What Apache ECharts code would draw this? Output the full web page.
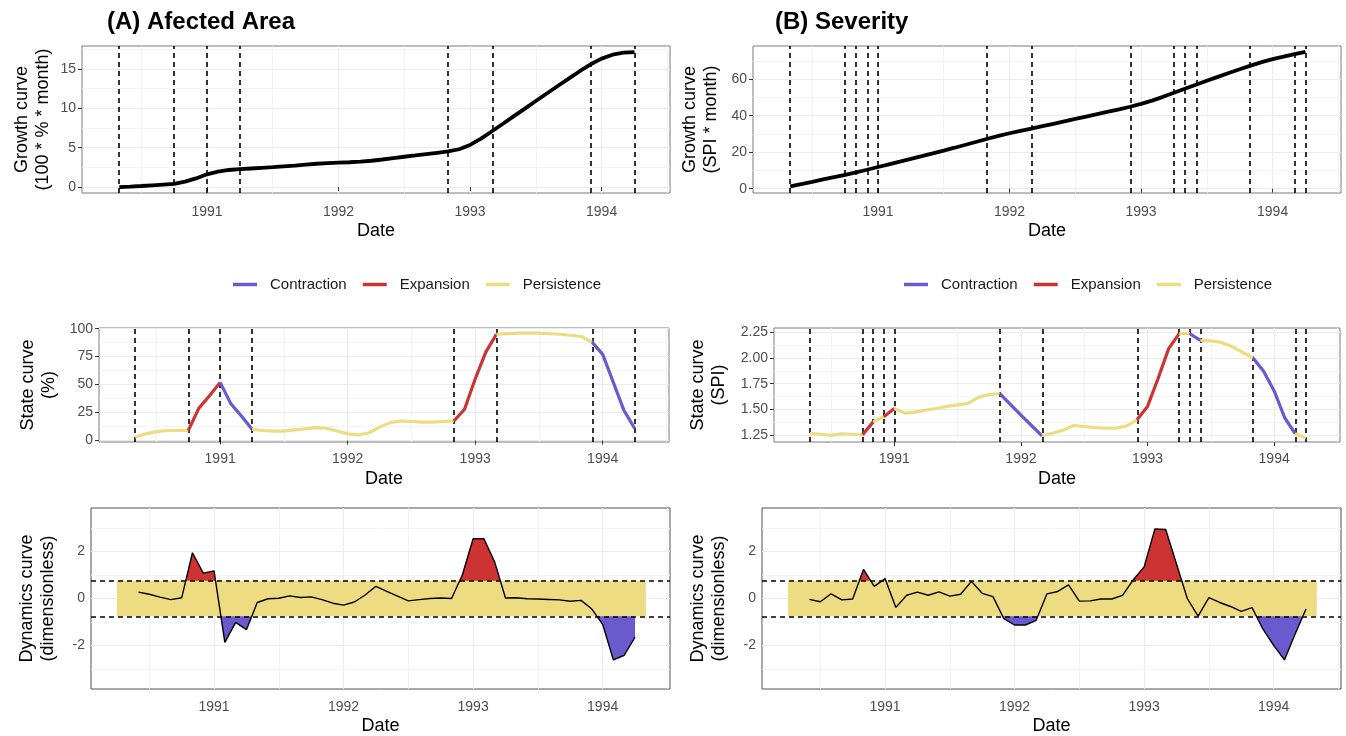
<!DOCTYPE html>
<html><head><meta charset="utf-8">
<script src="https://cdn.jsdelivr.net/npm/echarts@6/dist/echarts.min.js"></script>
<style>html,body{margin:0;padding:0;background:#fff}#c{width:1346px;height:736px}</style>
</head><body><div id="c"></div>
<script>
// ---------------- DATA ----------------
const months = ['1990-05','1990-06','1990-07','1990-08','1990-09','1990-10','1990-11','1990-12',
 '1991-01','1991-02','1991-03','1991-04','1991-05','1991-06','1991-07','1991-08','1991-09','1991-10','1991-11','1991-12',
 '1992-01','1992-02','1992-03','1992-04','1992-05','1992-06','1992-07','1992-08','1992-09','1992-10','1992-11','1992-12',
 '1993-01','1993-02','1993-03','1993-04','1993-05','1993-06','1993-07','1993-08','1993-09','1993-10','1993-11','1993-12',
 '1994-01','1994-02','1994-03','1994-04'];
const dynMonths = months.slice(1);

const growthA = [0.00,0.06,0.14,0.23,0.32,0.41,0.70,1.10,1.62,1.95,2.17,2.27,2.36,2.45,2.53,2.63,2.73,2.85,2.96,3.04,
 3.10,3.15,3.22,3.34,3.50,3.68,3.85,4.01,4.18,4.35,4.52,4.80,5.35,6.14,7.09,8.04,9.00,9.96,10.92,11.88,12.83,13.77,14.70,15.58,
 16.30,16.80,17.05,17.12];
const growthB = [1.27,2.53,3.78,5.05,6.31,7.56,8.94,10.37,11.88,13.35,14.82,16.32,17.83,19.36,20.90,22.46,24.08,25.73,27.38,28.93,
 30.38,31.72,32.97,34.24,35.54,36.88,38.22,39.54,40.86,42.18,43.52,44.92,46.45,48.25,50.34,52.58,54.81,56.98,59.15,61.30,63.41,65.46,67.46,69.33,
 71.01,72.43,73.70,74.92];
const stateA = [3,6,8,9,9,9,29,40,52,33,22,10,9,8.5,8.5,9.5,10.5,11.5,11,8.5,6,5,7,12,16,17.5,17,16.5,16.5,17,17.5,28,
 55,79,95,95.5,96,96,96,95.5,95,94,93,88,77,52,27,11];
const stateB = [1.27,1.26,1.25,1.265,1.26,1.255,1.38,1.43,1.51,1.465,1.475,1.495,1.51,1.53,1.545,1.56,1.62,1.645,1.655,1.55,
 1.445,1.345,1.245,1.27,1.30,1.345,1.335,1.325,1.32,1.32,1.34,1.40,1.53,1.80,2.09,2.235,2.235,2.17,2.165,2.15,2.11,2.055,2.00,1.87,
 1.68,1.42,1.265,1.22];
const dynA = [0.27,0.18,0.06,-0.05,0.03,1.95,1.08,
 1.18,-1.87,-1.02,-1.33,-0.17,-0.01,0.01,0.11,0.04,0.07,-0.05,-0.2,
 -0.28,-0.15,0.15,0.52,0.3,0.1,-0.1,-0.05,0.0,0.02,0.0,1.0,
 2.55,2.55,1.55,0.02,0.03,-0.01,-0.02,-0.04,-0.06,-0.12,-0.08,-0.45,
 -1.1,-2.62,-2.42,-1.65];
const dynB = [-0.04,-0.14,0.2,-0.06,-0.02,1.24,0.52,
 0.85,-0.38,0.14,0.27,0.14,0.28,0.1,0.18,0.73,0.22,0.08,-0.86,
 -1.13,-1.13,-0.93,0.2,0.3,0.58,-0.11,-0.1,-0.02,-0.02,0.13,0.8,
 1.35,2.97,2.94,1.47,0.0,-0.75,0.04,-0.17,-0.34,-0.55,-0.39,-1.3,
 -2.0,-2.62,-1.5,-0.45];

const phasesA = [
 ['1990-05','1990-10','Persistence'],['1990-10','1991-01','Expansion'],['1991-01','1991-04','Contraction'],
 ['1991-04','1992-11','Persistence'],['1992-11','1993-03','Expansion'],['1993-03','1993-12','Persistence'],
 ['1993-12','1994-04','Contraction']];
const phasesB = [
 ['1990-05','1990-10','Persistence'],['1990-10','1990-11','Expansion'],['1990-11','1990-12','Persistence'],
 ['1990-12','1991-01','Expansion'],['1991-01','1991-11','Persistence'],['1991-11','1992-03','Contraction'],
 ['1992-03','1992-12','Persistence'],['1992-12','1993-04','Expansion'],['1993-04','1993-05','Persistence'],
 ['1993-05','1993-06','Contraction'],['1993-06','1993-11','Persistence'],['1993-11','1994-03','Contraction'],
 ['1994-03','1994-04','Persistence']];

const phaseNames = ['Contraction','Expansion','Persistence'];
const bandStart = '1990-04', bandEnd = '1994-05';
const threshold = 0.76;

const xTicks = [1991,1992,1993,1994];
const xMinor = [1990.5,1991.5,1992.5,1993.5,1994.5];
const growthATicks = [0,5,10,15], growthAMinor = [2.5,7.5,12.5,17.5];
const growthBTicks = [0,20,40,60], growthBMinor = [10,30,50,70];
const stateATicks = [0,25,50,75,100], stateAMinor = [12.5,37.5,62.5,87.5];
const stateBTicks = [1.25,1.5,1.75,2.0,2.25], stateBMinor = [1.375,1.625,1.875,2.125];
const dynTicks = [-2,0,2], dynMinor = [-3,-1,1,3];

// ---------------- STYLE / LAYOUT ----------------
const phaseColors = {Contraction:'#6A5ACD', Expansion:'#CD3333', Persistence:'#EEDC82'};
const FONT = 'Liberation Sans';
const xMin = 1990.05, xMax = 1994.52;

function dec(m){ const p = m.split('-').map(Number); return p[0] + (p[1]-1)/12; }

const grids = [], xAxes = [], yAxes = [], series = [];

function addPanel(cfg){
  const g = grids.length;
  grids.push({left:cfg.left, top:cfg.top, width:cfg.width, height:cfg.height, show:true,
    borderColor:cfg.border, borderWidth:1, backgroundColor:'rgba(0,0,0,0)'});
  const tickStyle = {color:'#333', width:1};
  xAxes.push({type:'value', gridIndex:g, min:xMin, max:xMax, position:'bottom',
    axisLine:{show:false},
    axisTick:{show:cfg.ticks, length:4, lineStyle:tickStyle, customValues:xTicks},
    axisLabel:{customValues:xTicks, color:'#4D4D4D', fontSize:14, fontFamily:FONT, margin:cfg.xLabMargin, formatter:v=>String(Math.round(v))},
    splitLine:{show:true, lineStyle:{color:'#EBEBEB', width:1.2}},
    name:'Date', nameLocation:'middle', nameGap:cfg.xNameGap,
    nameTextStyle:{fontSize:18, color:'#000', fontFamily:FONT}});
  xAxes.push({type:'value', gridIndex:g, min:xMin, max:xMax, position:'top',
    axisLine:{show:false}, axisTick:{show:false, customValues:xMinor}, axisLabel:{show:false},
    splitLine:{show:true, lineStyle:{color:'#F1F1F1', width:0.8}}});
  yAxes.push({type:'value', gridIndex:g, min:cfg.yMin, max:cfg.yMax, position:'left',
    axisLine:{show:false},
    axisTick:{show:cfg.ticks, length:4, lineStyle:tickStyle, customValues:cfg.yTicks},
    axisLabel:{customValues:cfg.yTicks, color:'#4D4D4D', fontSize:14, fontFamily:FONT, margin:6, formatter:cfg.fmt},
    splitLine:{show:true, lineStyle:{color:'#EBEBEB', width:1.2}},
    name:cfg.yName, nameLocation:'middle', nameRotate:90, nameGap:cfg.yNameGap,
    nameTextStyle:{fontSize:18, lineHeight:21, color:'#000', fontFamily:FONT}});
  yAxes.push({type:'value', gridIndex:g, min:cfg.yMin, max:cfg.yMax, position:'right',
    axisLine:{show:false}, axisTick:{show:false, customValues:cfg.yMinor}, axisLabel:{show:false},
    splitLine:{show:true, lineStyle:{color:'#F1F1F1', width:0.8}}});
  return {x:2*g, y:2*g};
}

function vlineSeries(ax, phases){
  const breaks = phases.map(p=>p[0]).concat([phases[phases.length-1][1]]);
  return {type:'line', xAxisIndex:ax.x, yAxisIndex:ax.y, data:[], z:6, silent:true,
    markLine:{silent:true, symbol:['none','none'], label:{show:false}, animation:false,
      lineStyle:{color:'#000', type:[5,4], width:1.6},
      data: breaks.map(b=>({xAxis:dec(b)}))}};
}

function growthPanel(ax, growth, phases){
  series.push({type:'line', xAxisIndex:ax.x, yAxisIndex:ax.y, silent:true, symbol:'none', z:5,
    data: months.map((m,i)=>[dec(m), growth[i]]), lineStyle:{color:'#000', width:3.8}});
  series.push(vlineSeries(ax, phases));
}

function statePanel(ax, state, phases){
  phases.forEach(p=>{
    const i0 = months.indexOf(p[0]), i1 = months.indexOf(p[1]);
    const pts = [];
    for (let i=i0;i<=i1;i++) pts.push([dec(months[i]), state[i]]);
    series.push({type:'line', name:p[2], xAxisIndex:ax.x, yAxisIndex:ax.y, silent:true, symbol:'none', z:5,
      data:pts, lineStyle:{color:phaseColors[p[2]], width:3.2}, itemStyle:{color:phaseColors[p[2]]}});
  });
  series.push(vlineSeries(ax, phases));
}

function runs(xs, ys, thr, sign){
  const polys = []; let cur = null;
  const n = xs.length;
  for (let i=0;i<n;i++){
    const a = sign*(ys[i]-thr);
    if (a > 0){
      if (!cur){
        cur = [];
        if (i>0){ const b = sign*(ys[i-1]-thr); const t = b/(b-a); cur.push([xs[i-1]+t*(xs[i]-xs[i-1]), thr]); }
        else cur.push([xs[i], thr]);
      }
      cur.push([xs[i], ys[i]]);
    } else if (cur){
      const b = sign*(ys[i-1]-thr); const t = b/(b-a);
      cur.push([xs[i-1]+t*(xs[i]-xs[i-1]), thr]);
      polys.push(cur); cur = null;
    }
  }
  if (cur){ cur.push([xs[n-1], thr]); polys.push(cur); }
  return polys;
}

function dynPanel(ax, dyn){
  const xs = dynMonths.map(dec);
  series.push({type:'line', xAxisIndex:ax.x, yAxisIndex:ax.y, data:[], z:1, silent:true,
    markArea:{silent:true, animation:false, itemStyle:{color:phaseColors.Persistence, opacity:1},
      data:[[{xAxis:dec(bandStart), yAxis:-threshold},{xAxis:dec(bandEnd), yAxis:threshold}]]}});
  const up = runs(xs, dyn, threshold, 1), down = runs(xs, dyn, -threshold, -1);
  series.push({type:'custom', xAxisIndex:ax.x, yAxisIndex:ax.y, z:2, silent:true, clip:true,
    data:[[xs[0], 0]],
    renderItem:(params, api)=>{
      const children = [];
      up.forEach(p=>children.push({type:'polygon', shape:{points:p.map(q=>api.coord(q))}, style:{fill:phaseColors.Expansion}}));
      down.forEach(p=>children.push({type:'polygon', shape:{points:p.map(q=>api.coord(q))}, style:{fill:phaseColors.Contraction}}));
      return {type:'group', children};
    }});
  series.push({type:'line', xAxisIndex:ax.x, yAxisIndex:ax.y, silent:true, symbol:'none', z:4,
    data: xs.map((x,i)=>[x, dyn[i]]), lineStyle:{color:'#000', width:1.4}});
  series.push({type:'line', xAxisIndex:ax.x, yAxisIndex:ax.y, data:[], z:5, silent:true,
    markLine:{silent:true, symbol:['none','none'], label:{show:false}, animation:false,
      lineStyle:{color:'#000', type:[5,4], width:1.6},
      data:[{yAxis:threshold},{yAxis:-threshold}]}});
}

const fmtInt = v=>String(v);
const fmt2 = v=>v.toFixed(2);

const OFF = 671;
growthPanel(addPanel({left:82, top:46, width:588, height:147, border:'#7a7a7a', ticks:true,
  yMin:-0.75, yMax:17.9, yTicks:growthATicks, yMinor:growthAMinor, fmt:fmtInt,
  yName:'Growth curve\n(100 * % * month)', yNameGap:28, xNameGap:29, xLabMargin:12}), growthA, phasesA);
growthPanel(addPanel({left:82+OFF, top:46, width:588, height:147, border:'#7a7a7a', ticks:true,
  yMin:-2.36, yMax:78.2, yTicks:growthBTicks, yMinor:growthBMinor, fmt:fmtInt,
  yName:'Growth curve\n(SPI * month)', yNameGap:31, xNameGap:29, xLabMargin:12}), growthB, phasesB);
statePanel(addPanel({left:99, top:328, width:570, height:114, border:'#7a7a7a', ticks:true,
  yMin:-1.3, yMax:100.6, yTicks:stateATicks, yMinor:stateAMinor, fmt:fmtInt,
  yName:'State curve\n(%)', yNameGap:39, xNameGap:28, xLabMargin:10}), stateA, phasesA);
statePanel(addPanel({left:774, top:328, width:566, height:114, border:'#7a7a7a', ticks:true,
  yMin:1.185, yMax:2.29, yTicks:stateBTicks, yMinor:stateBMinor, fmt:fmt2,
  yName:'State curve\n(SPI)', yNameGap:44, xNameGap:28, xLabMargin:10}), stateB, phasesB);
dynPanel(addPanel({left:91, top:508, width:579, height:182, border:'#505050', ticks:false,
  yMin:-3.86, yMax:3.86, yTicks:dynTicks, yMinor:dynMinor, fmt:fmtInt,
  yName:'Dynamics curve\n(dimensionless)', yNameGap:32, xNameGap:28, xLabMargin:11}), dynA);
dynPanel(addPanel({left:91+OFF, top:508, width:579, height:182, border:'#505050', ticks:false,
  yMin:-3.86, yMax:3.86, yTicks:dynTicks, yMinor:dynMinor, fmt:fmtInt,
  yName:'Dynamics curve\n(dimensionless)', yNameGap:32, xNameGap:28, xLabMargin:11}), dynB);

const legendBase = {data:phaseNames, top:277, padding:0, icon:'rect', itemWidth:24, itemHeight:3.5, itemGap:16,
  selectedMode:false, textStyle:{fontSize:15, color:'#1a1a1a', fontFamily:FONT, padding:[0,0,0,8]}};

const chart = echarts.init(document.getElementById('c'), null, {renderer:'canvas'});
chart.setOption({
  animation:false,
  backgroundColor:'#fff',
  textStyle:{fontFamily:FONT},
  title:[
    {text:'(A) Afected Area', left:107, top:10, padding:0, textStyle:{fontSize:24, fontWeight:'bold', color:'#000', fontFamily:FONT}},
    {text:'(B) Severity', left:775, top:10, padding:0, textStyle:{fontSize:24, fontWeight:'bold', color:'#000', fontFamily:FONT}}
  ],
  legend:[Object.assign({left:233}, legendBase), Object.assign({left:233+OFF}, legendBase)],
  grid:grids, xAxis:xAxes, yAxis:yAxes, series:series
});
</script></body></html>
